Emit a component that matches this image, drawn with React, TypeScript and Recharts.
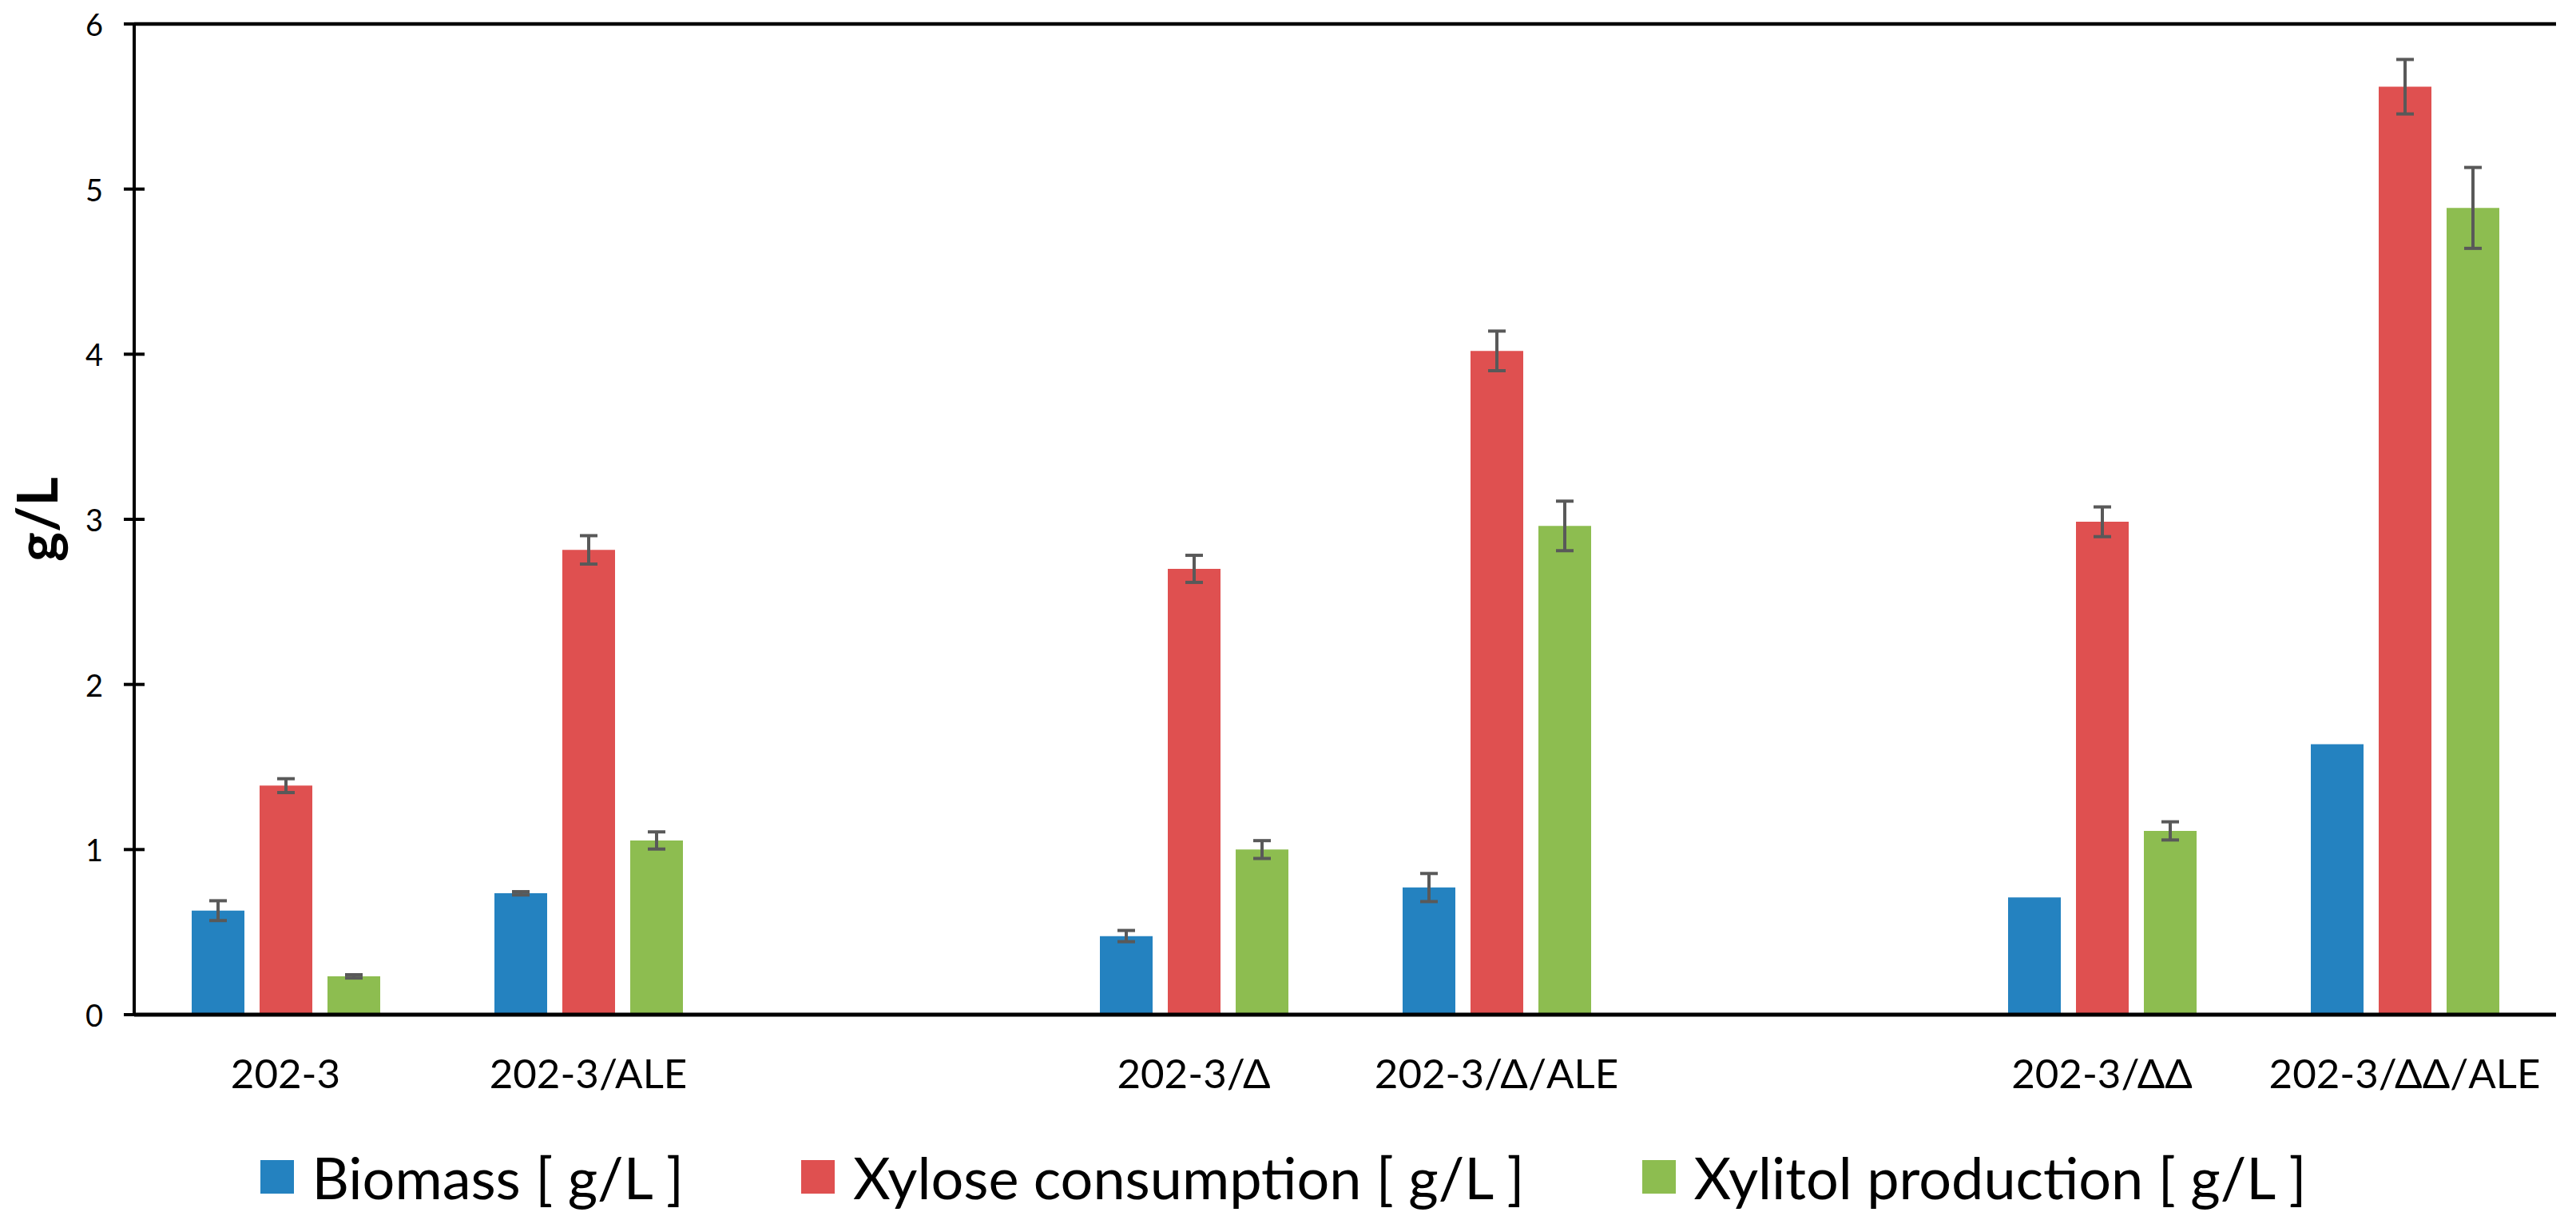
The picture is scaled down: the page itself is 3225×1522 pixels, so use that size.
import React from "react";
import { BarChart, Bar, XAxis, YAxis, ErrorBar, ReferenceLine, Legend, Label } from "recharts";

const categories = ["202-3", "202-3/ALE", "", "202-3/Δ", "202-3/Δ/ALE", "", "202-3/ΔΔ", "202-3/ΔΔ/ALE"];
const biomass = [0.63, 0.735, null, 0.476, 0.77, null, 0.71, 1.638];
const biomassErr = [0.06, 0.01, null, 0.034, 0.085, null, null, null];
const xylose = [1.387, 2.815, null, 2.7, 4.02, null, 2.985, 5.62];
const xyloseErr = [0.042, 0.086, null, 0.082, 0.12, null, 0.09, 0.165];
const xylitol = [0.232, 1.055, null, 1.0, 2.96, null, 1.113, 4.886];
const xylitolErr = [0.01, 0.052, null, 0.054, 0.15, null, 0.055, 0.245];
const yTicks = [0, 1, 2, 3, 4, 5, 6];

const series = [
  { key: "biomass", err: "biomassErr", name: "Biomass [ g/L ]", color: "#2482C0" },
  { key: "xylose", err: "xyloseErr", name: "Xylose consumption [ g/L ]", color: "#DF5050" },
  { key: "xylitol", err: "xylitolErr", name: "Xylitol production [ g/L ]", color: "#8DBD50" },
];

const data = categories.map((name, i) => ({
  name,
  biomass: biomass[i],
  biomassErr: biomassErr[i],
  xylose: xylose[i],
  xyloseErr: xyloseErr[i],
  xylitol: xylitol[i],
  xylitolErr: xylitolErr[i],
}));

const FONT = "Lato, 'Open Sans', sans-serif";

function YTick({ x, y, payload }: any) {
  return (
    <g>
      <line x1={x - 13} x2={x + 13} y1={y} y2={y} stroke="#000" strokeWidth={4} />
      <text x={x - 39} y={y} textAnchor="end" dominantBaseline="central" fontSize={38} fontFamily={FONT} fill="#000">
        {payload.value}
      </text>
    </g>
  );
}

function XTick({ x, y, payload }: any) {
  return (
    <text x={x} y={y + 92} textAnchor="middle" fontSize={51} fontFamily={FONT} fill="#000">
      {payload.value}
    </text>
  );
}

function YLabel({ viewBox }: any) {
  const cy = viewBox && viewBox.height ? viewBox.y + viewBox.height / 2 : 650;
  return (
    <text
      x={72}
      y={cy}
      transform={`rotate(-90, 72, ${cy})`}
      textAnchor="middle"
      fontSize={70}
      fontWeight={700}
      fontFamily={FONT}
      fill="#000"
    >
      g/L
    </text>
  );
}

function LegendBox() {
  return (
    <div style={{ display: "flex", justifyContent: "center", alignItems: "center", gap: 147, fontFamily: FONT, fontSize: 72, color: "#000", lineHeight: "84px" }}>
      {series.map((s) => (
        <div key={s.key} style={{ display: "flex", alignItems: "center" }}>
          <span style={{ display: "inline-block", width: 42, height: 42, background: s.color, marginRight: 23 }} />
          <span style={{ whiteSpace: "pre" }}>{s.name}</span>
        </div>
      ))}
    </div>
  );
}

export default function App() {
  return (
    <div style={{ position: "absolute", left: 0, top: 0, width: 3225, height: 1522, background: "#fff" }}>
      <BarChart
        width={3225}
        height={1522}
        data={data}
        margin={{ top: 30, right: 25, bottom: 0, left: 0 }}
        barSize={66}
        barGap={19}
      >
        <XAxis
          dataKey="name"
          height={252}
          interval={0}
          tickLine={false}
          tickSize={0}
          tickMargin={0}
          axisLine={{ stroke: "#000", strokeWidth: 5 }}
          tick={<XTick />}
        />
        <YAxis
          width={168}
          domain={[0, 6]}
          ticks={yTicks}
          interval={0}
          tickLine={false}
          tickSize={0}
          tickMargin={0}
          axisLine={{ stroke: "#000", strokeWidth: 4 }}
          tick={<YTick />}
        >
          <Label content={<YLabel />} />
        </YAxis>
        <YAxis
          yAxisId="right"
          orientation="right"
          width={0}
          domain={[0, 6]}
          tick={false}
          tickLine={false}
          axisLine={{ stroke: "#000", strokeWidth: 4 }}
        />
        <ReferenceLine y={6} stroke="#000" strokeWidth={4.5} />
        {series.map((s) => (
          <Bar key={s.key} dataKey={s.key} name={s.name} fill={s.color} isAnimationActive={false}>
            <ErrorBar dataKey={s.err} width={11} strokeWidth={4} stroke="#595959" direction="y" />
          </Bar>
        ))}
        <Legend
          content={<LegendBox />}
          wrapperStyle={{ position: "absolute", left: 0, top: 1431, width: 3213, height: 0 }}
        />
      </BarChart>
    </div>
  );
}
